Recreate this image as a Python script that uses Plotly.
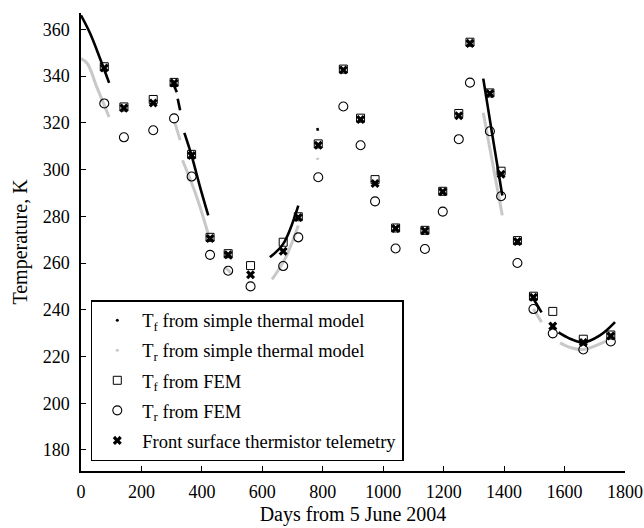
import plotly.graph_objects as go

# days of the FEM / telemetry comparison points
days = [77, 142, 239, 308, 366, 427, 487, 561, 669, 719, 785, 868, 925,
        973, 1041, 1138, 1197, 1250, 1287, 1353, 1390, 1444, 1497, 1561, 1662, 1753]
tf_fem = [344, 326.8, 330, 337.3, 306.5, 271, 264, 258.9, 268.9, 279.8, 311, 343, 322,
          295.7, 275, 274, 290.7, 324, 354.5, 332.8, 299.3, 269.6, 245.8, 239.3, 227.4, 229.2]
tr_fem = [328.3, 313.8, 316.8, 321.9, 297, 263.5, 256.7, 250, 258.7, 271, 296.7, 327, 310.4,
          286.4, 266.2, 266, 282, 313, 337.2, 316.4, 288.6, 260, 240.3, 229.9, 223, 226.4]
telemetry = [343.5, 326.3, 328.5, 337, 306, 270.5, 263.5, 255, 265, 279.5, 310.4, 342.6, 321.4,
             294, 274.8, 273.8, 290.5, 323, 354, 332.5, 298, 269.2, 245.4, 233, 226, 228.8]

# simple thermal model, piecewise (None = gap)
model_f_days = [0, 30, 63, 93, None,
                300, 317, None,
                320, 328, None,
                342, 366, 394, 421, None,
                476, 499, None,
                625, 669, 719, None,
                782, 784, None,
                1331, 1362, 1394, None,
                1491, 1524, None,
                1580, 1618, 1662, 1717, 1767]
model_f_temp = [366, 358.3, 347.5, 337.1, None,
                338.3, 333.1, None,
                330.3, 325.4, None,
                315.7, 306, 292.5, 280.4, None,
                264.6, 261.8, None,
                262.5, 268.2, 284.6, None,
                317.8, 316.6, None,
                338.9, 314, 288.9, None,
                246, 238.9, None,
                230.3, 227.6, 226, 229, 234.7]

model_r_days = [0, 21, 52, 93, None,
                310, 328, None,
                336, 383, 423, None,
                476, 499, None,
                632, 675, 719, None,
                782, 784, None,
                1331, 1394, None,
                1497, 1524, None,
                1585, 1620, 1662, 1739]
model_r_temp = [347.5, 345.4, 335.4, 322.5, None,
                320.3, 312.6, None,
                304, 288.3, 271.5, None,
                258.3, 255.4, None,
                253, 261.8, 276.1, None,
                305.0, 304.2, None,
                324.3, 280.4, None,
                240.3, 234.7, None,
                225.8, 223.8, 223, 226.7]

GRAY = '#c8c8c8'
FONT = 'Liberation Serif, Times New Roman, serif'

fig = go.Figure()

# model curves (no legend, legend uses dot entries below)
fig.add_trace(go.Scatter(x=model_r_days, y=model_r_temp, mode='lines', line_shape='spline',
                         line=dict(color=GRAY, width=3), showlegend=False))
fig.add_trace(go.Scatter(x=model_f_days, y=model_f_temp, mode='lines', line_shape='spline',
                         line=dict(color='black', width=2.6), showlegend=False))

# legend-only entries for model
fig.add_trace(go.Scatter(x=[None], y=[None], mode='markers', name='T<sub>f</sub> from simple thermal model',
                         marker=dict(color='black', size=3), legendgroup='a'))
fig.add_trace(go.Scatter(x=[None], y=[None], mode='markers', name='T<sub>r</sub> from simple thermal model',
                         marker=dict(color=GRAY, size=3), legendgroup='b'))

fig.add_trace(go.Scatter(x=days, y=tf_fem, mode='markers', name='T<sub>f</sub> from FEM',
                         marker=dict(symbol='square-open', size=8, color='black', line=dict(width=1)),
                         legendgroup='c'))
fig.add_trace(go.Scatter(x=days, y=tr_fem, mode='markers', name='T<sub>r</sub> from FEM',
                         marker=dict(symbol='circle-open', size=9, color='black', line=dict(width=1.1)),
                         legendgroup='d'))
fig.add_trace(go.Scatter(x=days, y=telemetry, mode='markers', name='Front surface thermistor telemetry',
                         marker=dict(symbol='x', size=8, color='black', line=dict(width=0)),
                         legendgroup='e'))

fig.update_layout(
    width=644, height=528,
    margin=dict(l=81, r=19, t=13, b=57),
    paper_bgcolor='white', plot_bgcolor='white',
    font=dict(family=FONT, size=17, color='black'),
    legend=dict(x=0.018, y=0.373, xanchor='left', yanchor='top',
                bordercolor='black', borderwidth=1.5, bgcolor='white',
                traceorder='grouped', tracegroupgap=3, itemwidth=40,
                font=dict(family=FONT, size=18.5)),
)
fig.update_xaxes(range=[0, 1800], dtick=200, showline=True, linecolor='black', linewidth=1.5,
                 ticks='inside', ticklen=5, tickwidth=1, tickcolor='black',
                 showgrid=False, zeroline=False, ticklabelstandoff=4, automargin=False,
                 tickfont=dict(family=FONT, size=18),
                 title=dict(text='Days from 5 June 2004', standoff=6))
fig.update_yaxes(range=[171, 367], dtick=20, showline=True, linecolor='black', linewidth=1.5,
                 ticks='inside', ticklen=5, tickwidth=1, tickcolor='black',
                 showgrid=False, zeroline=False, ticklabelstandoff=6, automargin=False,
                 tickfont=dict(family=FONT, size=18),
                 title=dict(text='Temperature, K', standoff=10))

# drop the default 8px page margin so the figure fills the window
fig.write_html("out.html", config={'displayModeBar': False},
               post_script="document.body.style.margin='0';document.body.style.overflow='hidden';")
